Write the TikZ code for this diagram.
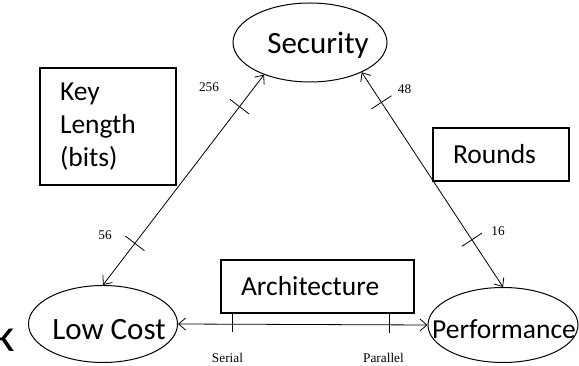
\documentclass[tikz,border=0pt]{standalone}
\usepackage{fontspec}
\setmainfont{Carlito}
\newfontfamily\scalefont{Liberation Serif}
\usetikzlibrary{arrows.meta,calc,positioning,shapes.geometric}
\newcommand{\goaltext}{\fontsize{31}{37}\selectfont}
\tikzset{
tradeoff/.style={>={Straight Barb[length=7pt,width=12pt]},line width=0.8pt},
goal/.style={ellipse,draw,line width=1pt,inner sep=0pt},
goal label/.style={font=\goaltext,inner sep=0pt},
factor/.style={rectangle,draw,line width=1.4pt,align=left,inner xsep=20pt,
inner ysep=0pt,minimum height=53pt,font=\fontsize{27.5}{33}\selectfont},
value/.style={font=\scalefont\fontsize{13.3}{16}\selectfont,inner sep=0pt},
}

\begin{document}
\begin{tikzpicture}[tradeoff,x=1pt,y=1pt]
\useasboundingbox (0,0) rectangle (579,366);
\node[goal,minimum width=154pt,minimum height=79pt,
  label={[goal label,xshift=8pt,yshift=-3pt]center:Security}] (sec) at (310,323.5) {};
\node[goal,minimum width=149pt,minimum height=77pt,
  label={[goal label,xshift=6pt,yshift=-6pt]center:Low Cost}] (lc) at (103,42) {};
\node[goal,minimum width=150pt,minimum height=75pt,
  label={[goal label,xshift=1pt,yshift=-4pt,font=\fontsize{27.5}{33}\selectfont]center:Performance}] (perf) at (503,41) {};

\node[factor,text width=96pt,minimum height=117pt] (key) at (108,239.5) {Key\\Length\\(bits)};
\node[factor,text width=96pt] (rounds) at (501,211.5) {Rounds};
\node[factor,text width=153pt] (arch) at (317.5,79.5) {Architecture};

\draw[<->] (lc.north) -- coordinate[pos=0.198] (t56) coordinate[pos=0.848] (t256) (sec.215);
\draw[<->] (sec.330) -- coordinate[pos=0.14] (t48) coordinate[pos=0.78] (t16) (perf.north);
\draw[<->] (lc.east) -- coordinate[pos=0.218] (tser) coordinate[pos=0.848] (tpar) (perf.west);

\foreach \t/\e in {t56/sec.215,t256/sec.215,t48/sec.330,t16/sec.330}
  \draw ($(\t)!12pt!90:(\e)$) -- ($(\t)!12pt!-90:(\e)$);
\foreach \t in {tser,tpar}
  \draw (\t |- arch.south) -- ($(\t)+(0,-8)$);

\node[value] (v256) at (209,279) {256};
\node[value] (v56) at (105,131) {56};
\node[value] (v48) at (404.5,277) {48};
\node[value] (v16) at (498,134.5) {16};
\node[value] (vser) at (227.5,8) {Serial};
\node[value] (vpar) at (383.5,8) {Parallel};

\node[font=\fontsize{47}{56}\selectfont,anchor=base east,inner sep=0pt] (k) at (15,14) {k};
\end{tikzpicture}
\end{document}
